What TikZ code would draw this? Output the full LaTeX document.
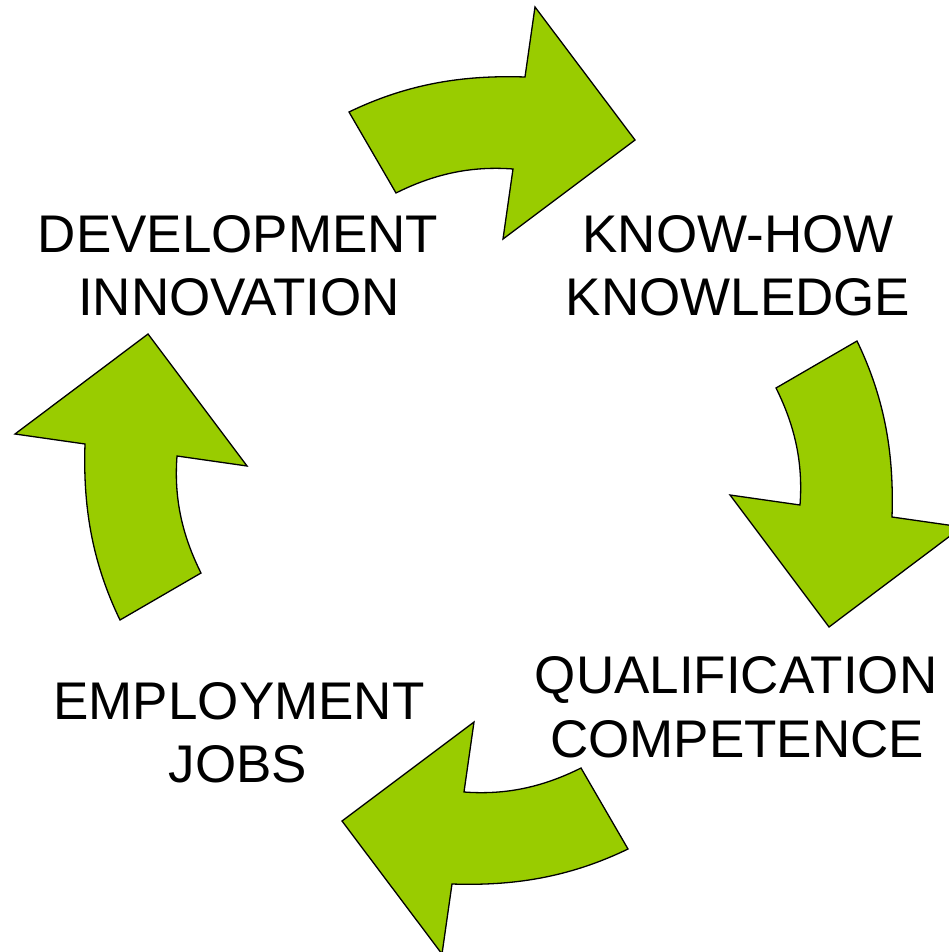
\documentclass[tikz,border=0pt]{standalone}
\usepackage{fontspec}
\setmainfont{Liberation Sans}
\definecolor{arrowgreen}{HTML}{99CC00}
\tikzset{
  bentarrow/.style={fill=arrowgreen, draw=black, line width=1.3pt, line join=miter},
  label/.style={anchor=base, inner sep=0pt, font=\fontsize{53}{63}\selectfont}
}
\begin{document}
\begin{tikzpicture}[x=1pt,y=-1pt]
\useasboundingbox (0,0) rectangle (949,952);
\clip (0,0) rectangle (949,952);
\def\arrowpath{(349,112) .. controls (409,83) and (465,75) .. (525,77) -- (535,7) -- (635,140) -- (503,239) -- (513,169) .. controls (473,166) and (436,173) .. (396,193) -- cycle}
\foreach \ang in {0,-90,180,90}{
  \path[bentarrow, rotate around={\ang:(488.5,480.5)}] \arrowpath;
}
\node[label] (dev) at (238,252) {DEVELOPMENT};
\node[label] (inn) at (239,315) {INNOVATION};
\node[label] (know) at (738,252) {KNOW-HOW};
\node[label] (kno) at (738,315) {KNOWLEDGE};
\node[label] (qual) at (736,693) {QUALIFICATION};
\node[label] (comp) at (737,757) {COMPETENCE};
\node[label] (emp) at (239,719) {EMPLOYMENT};
\node[label] (jobs) at (238,782) {JOBS};
\end{tikzpicture}
\end{document}
